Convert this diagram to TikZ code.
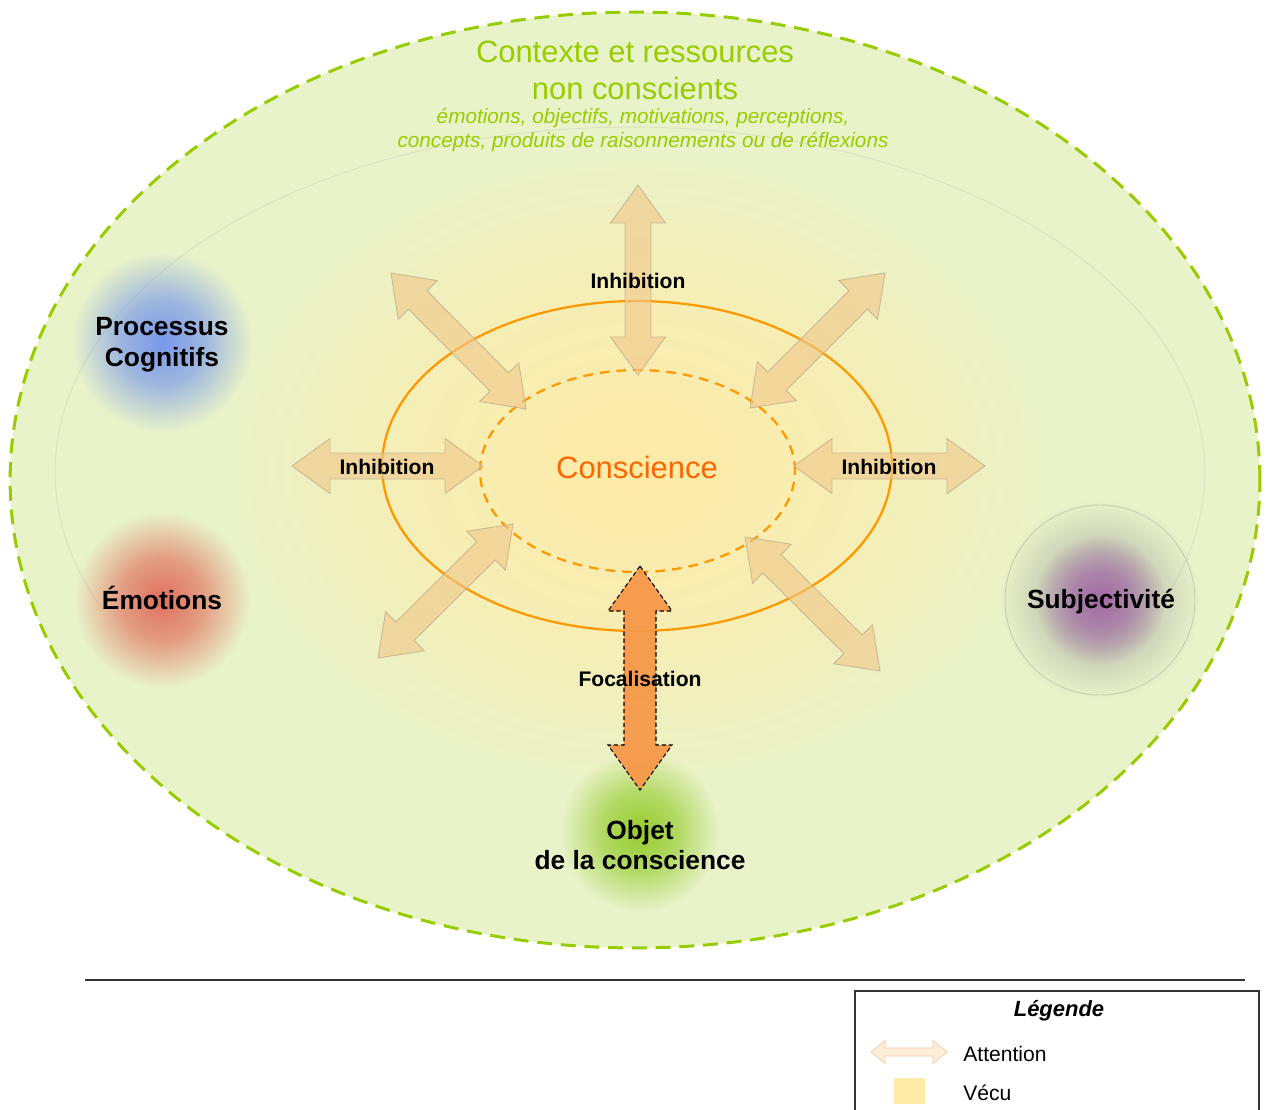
\documentclass[tikz,border=0pt]{standalone}
\usepackage{fontspec}
\setmainfont{Liberation Sans}
\usetikzlibrary{positioning,calc,fadings}
\definecolor{ctxgreen}{HTML}{99CC00}
\definecolor{ctxfill}{HTML}{E9F3CA}
\definecolor{vecu}{HTML}{FFEBA8}
\definecolor{ring}{HTML}{FF9900}
\definecolor{consctext}{HTML}{FF6600}
\definecolor{attnfill}{HTML}{F0C88C}
\definecolor{attnline}{HTML}{BFAE8E}
\definecolor{focfill}{HTML}{F79646}
\definecolor{cogblue}{HTML}{7898EA}
\definecolor{emored}{HTML}{E0705E}
\definecolor{subjpurple}{HTML}{A46AA6}
\definecolor{objgreen}{HTML}{96CC2E}
\pgfdeclareradialshading{glowshade}{\pgfpointorigin}{color(0bp)=(pgftransparent!0); color(12bp)=(pgftransparent!35); color(25bp)=(pgftransparent!100); color(50bp)=(pgftransparent!100)}
\pgfdeclarefading{glow}{\pgfuseshading{glowshade}}
\tikzset{
  glowing/.style = {fill=#1, path fading=glow},
  attn/.style    = {fill=attnfill, fill opacity=.62, draw=attnline, draw opacity=.8, line width=.5pt},
  focus/.style   = {fill=focfill, fill opacity=.92, draw=black, dashed, dash pattern=on 2.5pt off 1.5pt, line width=.6pt},
  twoway/.style n args={3}{to path={
      -- ($(\tikztostart)!#1!(\tikztotarget)!#2!90:(\tikztotarget)$)
      -- ($(\tikztostart)!#1!(\tikztotarget)!#3!90:(\tikztotarget)$)
      -- ($(\tikztotarget)!#1!(\tikztostart)!#3!-90:(\tikztostart)$)
      -- ($(\tikztotarget)!#1!(\tikztostart)!#2!-90:(\tikztostart)$)
      -- (\tikztotarget)
      -- ($(\tikztotarget)!#1!(\tikztostart)!#2!90:(\tikztostart)$)
      -- ($(\tikztotarget)!#1!(\tikztostart)!#3!90:(\tikztostart)$)
      -- ($(\tikztostart)!#1!(\tikztotarget)!#3!-90:(\tikztotarget)$)
      -- ($(\tikztostart)!#1!(\tikztotarget)!#2!-90:(\tikztotarget)$)
      -- cycle}},
  lbl/.style     = {font=\bfseries\fontsize{12}{14}\selectfont, inner sep=1pt},
  pole/.style    = {font=\bfseries\fontsize{15}{17.5}\selectfont, align=center, inner sep=1pt},
  legtxt/.style  = {font=\fontsize{12}{14}\selectfont, inner sep=0pt}
}
\begin{document}
\begin{tikzpicture}[x=0.02cm, y=-0.02cm]
  \useasboundingbox (0,0) rectangle (1266,1109);
  % context
  \path[fill=ctxfill] (635,480) ellipse [x radius=12.5cm, y radius=9.36cm];
  \begin{scope}
    \clip (0,0) rectangle (1266,610);
    \draw[gray!60, opacity=.3, line width=.5pt] (630,472) ellipse [x radius=11.5cm, y radius=6.9cm];
  \end{scope}
  \fill[glowing=vecu] (637,468) ellipse [x radius=8.6cm, y radius=6.6cm];
  \draw[ctxgreen, line width=1.7pt, dash pattern=on 8.5pt off 5pt] (635,480) ellipse [x radius=12.5cm, y radius=9.36cm];
  % poles
  \fill[glowing=cogblue] (162,342) circle [radius=1.8cm];
  \fill[glowing=emored] (162,600) circle [radius=1.75cm];
  \fill[glowing=gray!80, fill opacity=.7] (1100,600) circle [radius=2cm];
  \fill[glowing=subjpurple] (1100,600) circle [radius=1.3cm];
  \draw[gray, opacity=.3, line width=.5pt] (1100,600) circle [radius=1.9cm];
  \fill[glowing=objgreen] (640,832) circle [radius=1.6cm];
  % conscience
  \draw[ring, line width=1.3pt] (637,466) ellipse [x radius=5.1cm, y radius=3.3cm];
  \draw[ring, line width=1.3pt, dash pattern=on 5.5pt off 4pt] (637.5,471) ellipse [x radius=3.15cm, y radius=2.02cm];
  % attention
  \coordinate (n1) at (638,185);  \coordinate (n2) at (638,375);
  \coordinate (w1) at (292,466);  \coordinate (w2) at (483,466);
  \coordinate (e1) at (985,466);  \coordinate (e2) at (794,466);
  \coordinate (nw1) at (391,273); \coordinate (nw2) at (526,409);
  \coordinate (ne1) at (885,273); \coordinate (ne2) at (750,408);
  \coordinate (sw1) at (378,658); \coordinate (sw2) at (513,524);
  \coordinate (se1) at (880,671); \coordinate (se2) at (745,537);
  \coordinate (f1) at (640,566);  \coordinate (f2) at (640,790);
  \foreach \a/\b in {n1/n2,w1/w2,e1/e2,nw1/nw2,ne1/ne2,sw1/sw2,se1/se2}
    \draw[attn] (\a) to[twoway={0.76cm}{0.55cm}{0.26cm}] (\b);
  \draw[focus] (f1) to[twoway={0.9cm}{0.64cm}{0.32cm}] (f2);
  % labels
  \node[font=\fontsize{17.6}{21}\selectfont, text=ctxgreen, align=center] (ctx) at (635,70) {Contexte et ressources\\non conscients};
  \node[font=\itshape\fontsize{11.8}{14.2}\selectfont, text=ctxgreen, align=center] (res) at (643,130) {émotions, objectifs, motivations, perceptions,\\concepts, produits de raisonnements ou de réflexions};
  \node[font=\fontsize{17.6}{21}\selectfont, text=consctext] (consc) at (637,467) {Conscience};
  \node[lbl] (inhn) at (638,281) {Inhibition};
  \node[lbl] (inhw) at (387,467) {Inhibition};
  \node[lbl] (inhe) at (889,467) {Inhibition};
  \node[lbl] (foc) at (640,679) {Focalisation};
  \node[pole] (cog) at (162,345) {Processus\\Cognitifs};
  \node[pole] (emo) at (162,598) {Émotions};
  \node[pole] (subj) at (1101,602) {Subjectivité};
  \node[pole] (obj) at (640,845) {Objet\\de la conscience};
  % legend
  \draw[black!80, line width=.6pt] (85,980) -- (1245,980);
  \draw[black!80, line width=.6pt] (855,1115) -- (855,991) -- (1259,991) -- (1259,1115);
  \node[font=\bfseries\itshape\fontsize{12.5}{14}\selectfont] (leg) at (1059,1011) {Légende};
  \coordinate (la1) at (871,1052); \coordinate (la2) at (947,1052);
  \draw[fill=orange!15!white, draw=orange!40!brown!40] (la1) to[twoway={0.28cm}{0.23cm}{0.08cm}] (la2);
  \node[legtxt, anchor=west] (attn) at (963,1054) {Attention};
  \node[legtxt, below=0.45cm of attn.south west, anchor=north west] (vecutxt) {Vécu};
  \node[fill=vecu, minimum width=0.62cm, minimum height=0.52cm, inner sep=0pt] (vecubox) at (909,1091) {};
\end{tikzpicture}
\end{document}
